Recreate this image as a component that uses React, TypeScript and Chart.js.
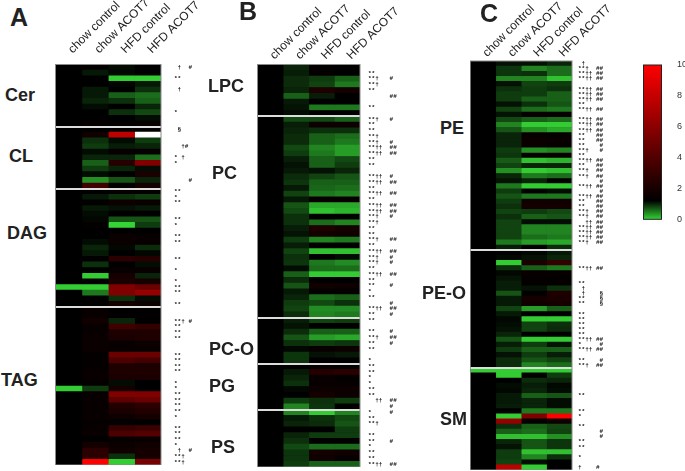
import React, { useEffect, useRef } from "react";
import { Chart, registerables } from "chart.js";

Chart.register(...registerables);

const columns = ["chow control", "chow ACOT7", "HFD control", "HFD ACOT7"];
const colorbarTicks = [0, 2, 4, 6, 8, 10];

// Each row: chow control, chow ACOT7, HFD control, HFD ACOT7 (fold change; >10 saturates to white)
const cerRows = [[1,1.1,.95,1],[1,.9,.97,1],[1,1,.15,.15],[1,1,.97,.9],[1,.9,1,.8],[1,.9,.6,.55],[1,.85,.8,.6],[1,.95,1,.85],[1,1,.8,.7],[1,1,1,.95],[1,1.15,1.1,1.1]];
const clRows = [[1,1,1.1,1.05],[1,1.4,5.5,11],[1,.8,.95,.75],[1,.75,.88,.85],[1,.95,1.15,1.15],[1,.85,.85,.55],[1,.6,1.9,4],[1,.75,.85,.95],[1,.95,1,1.6],[1,.4,.65,.85],[1,2.5,1,1.5]];
const dagRows = [[1,1,1.1,1.1],[1,.9,.8,.75],[1,1.05,1.3,1.25],[1,.9,.93,.9],[1,.95,1,1],[1,.97,.65,.65],[1,1.1,.12,.75],[1,1,1,1],[1,1,1.25,1.2],[1,.95,1.25,1.2],[1,.85,.97,.82],[1,.9,1,.97],[1,1.03,2,1.9],[1,.8,1,.95],[1,1,1.15,1.2],[1,.15,1.5,.85],[1,1,1.6,1.5],[.15,.15,4,3.5],[1,.5,4,4.5],[1,1,.8,.95],[1,1.1,1.5,1.3]];
const tagRows = [[1,1.2,1,1.05],[1,1.2,1.05,1.05],[1,1.4,.85,1],[1,1.15,2.5,2.2],[1,1.2,1.7,1.7],[1,1.25,1.6,1.7],[1,1.25,1.2,1.3],[1,1.25,1.15,1.15],[1,1.1,3.5,3.5],[1,1.1,2.8,2.6],[1,1.1,1.7,1.6],[1,1.2,1.7,1.7],[1,1.2,1.6,1.6],[1,1.1,.95,1],[.15,.75,1.5,1],[1,1.2,4,4],[1,1.2,3.2,3.5],[1,1.15,1.8,2],[1,1.2,1.6,1.8],[1,1.2,1.3,1.5],[1,1.1,1.05,1],[1,1.2,2.3,2.4],[1,1.2,2.8,3],[1,1,1.15,1.2],[1,1.5,1.25,1.4],[1,2,1.4,1.5],[1,2,.8,1.5],[1,7,.15,3.8]];
const lpcRows = [[1,.85,1.1,1],[1,.88,1.1,1],[1,.82,.75,.6],[1,.82,.72,.5],[1,.85,1.7,1.5],[1,.6,.88,1],[1,.9,1,1],[1,.92,.5,.5],[1,.95,1,1.05]];
const pcRows = [[1,.7,.7,.6],[1,.88,1.3,1.3],[1,.85,.8,.8],[1,.82,.6,.55],[1,.82,.6,.5],[1,.7,.45,.35],[1,.75,.5,.35],[1,.88,.6,.7],[1,.93,.6,.75],[1,.9,.93,.85],[1,.82,.72,.65],[1,.78,.6,.6],[1,.9,.58,.55],[1,.72,.5,.45],[1,.9,1.2,1.2],[1,.65,.3,.3],[1,.7,.2,.25],[1,.8,1,1.05],[1,.8,.55,.45],[1,.88,1.7,1.5],[1,.92,1.5,1.4],[1,.75,.45,.5],[1,.88,1,1],[1,.72,.2,.2],[1,.8,1,.95],[1,.78,.5,.42],[1,.95,.55,.55],[1,.6,.15,.15],[1,.82,1,1],[1,.65,1.4,1.3],[1,.9,1.05,1.1],[1,.85,.55,.6],[1,.75,.7,.8],[1,.72,.42,.42],[1,.82,.45,.5]];
const pcoRows = [[1,.88,.72,.75],[1,.92,1,1],[1,.82,.6,.6],[1,.65,.35,.3],[1,.8,.75,.78],[1,.97,1.2,1.3],[1,.78,.93,.9],[1,.78,1,1]];
const pgRows = [[1,1,1.15,1.1],[1,.9,1.9,2],[1,.85,1.2,1.1],[1,.8,1.2,1.15],[1,.97,1.3,1.3],[1,1,1.5,1.3],[1,.75,.8,.75],[1,.45,.78,1]];
const psRows = [[1,.45,.15,.45],[1,.9,.8,.7],[1,.85,.82,.65],[1,1,1,.75],[1,.85,.75,.75],[1,.8,1,1],[1,.7,.55,.55],[1,.78,1.5,1.4],[1,.78,1.4,1.2],[1,.75,.6,.6]];
const peRows = [[1,.93,.93,.85],[1,.78,.45,.55],[1,.78,.8,.55],[1,.45,.45,.2],[1,.93,.72,.75],[1,.8,.75,.8],[1,.75,.75,.6],[1,.75,.6,.6],[1,.93,.8,.65],[1,.72,.55,.5],[1,.92,1.15,1.15],[1,.7,.6,.55],[1,.45,.15,.15],[1,.65,.4,.3],[1,.85,1.2,1.15],[1,.85,1.25,1.2],[1,.85,1.25,1.2],[1,.75,.4,.45],[1,.78,1.2,1.25],[1,.62,.2,.25],[1,.72,.85,.85],[1,.4,.15,.2],[1,.85,.5,.55],[1,.92,.85,1],[1,.5,.15,.15],[1,.75,1,.95],[1,.65,.5,.5],[1,.75,1.4,1.4],[1,.8,1.5,1.5],[1,.72,.75,.7],[1,.8,.6,.65],[1,.72,.95,.95],[1,.72,.45,.45],[1,.72,.45,.45],[1,.72,.55,.5],[1,.5,.35,.3],[1,.88,1,.82]];
const peoRows = [[1,1,.97,.9],[1,.97,.93,.85],[1,.15,1.6,2.2],[1,.8,.6,.5],[1,.97,1.2,1.15],[1,.92,1.1,1.1],[1,.88,1.1,1.1],[1,.88,.92,.8],[1,.65,1.05,1.7],[1,.9,1.5,1.6],[1,.9,1.4,1.5],[1,.72,.35,.6],[1,.9,1,1],[1,.97,.15,.15],[1,.95,.72,.8],[1,.93,.72,.82],[1,.85,1,1],[1,.65,.15,.15],[1,.88,.75,.92],[1,.75,.6,.6],[1,.93,.75,.88],[1,.82,.65,.72],[1,.82,.45,.55]];
const smRows = [[.15,.15,.15,.15],[1,.15,1.1,.75],[1,1,.82,.85],[1,.95,.88,.97],[1,.97,.85,.95],[1,.9,.6,.65],[1,.9,.85,.95],[1,.88,.85,.95],[1,1,.5,.5],[1,.15,4,7],[1,4.5,1.05,1.3],[1,.8,.6,.7],[1,.6,.55,.72],[1,.2,.2,.4],[1,.85,.65,.78],[1,.92,.65,.78],[1,.75,.2,.2],[1,.75,.45,.8],[1,.72,.95,1],[1,5.5,.15,1.05]];

// Significance marks, one string per row
const cerMarks = [" †  #","","**","", " †","","","","*","",""];
const clMarks = [" §","","","  †#","","* †","*","","","    #",""];
const dagMarks = ["**","*","**","","","**","*","","**","**","","","**","","*","","*","**","**","","**"];
const tagMarks = ["","","**† #","**","**","**","","","**","**","**","**","","*","*","**","**","**","**","*","","**","**","**","*"," †  #","**†","**†"];
const lpcMarks = ["","**","**†   #","**†","**","      ##","","**",""];
const pcMarks = ["**†   #","**","**","**†","**†   #","**††  ##","**††  ##","**","**","","**††  #","**††  ##","**","**††  ##","**","**††  ##","**††  ##","**†   #","**†","**","**","**†   ##","**","**††  ##","**†   #","**†   #","**","**††  ##","**","**    #","*","**","      #","**††  ##","**    #"];
const pcoMarks = ["**","","**    #","**†   ##","**    #","**","","*"];
const pgMarks = ["**","**","*","*","**","**","  ††  ##","      #"];
const psMarks = ["*     #","**","**†","","**","**    #","*","**","**","**††  ##"];
const peMarks = [" †","**†  ##","**†† ##","**†† ##","","**†† ##","**†† ##","**†† ##","**","**†† ##","","**†† ##","**†† ##","**†† ##","**   ##","**   ##","**    #","**†   #","**","**†† ##","**   ##","**†  ##","**†  ##","      #","**†† ##","      #","**†† ##","**   ##","**   ##","**†  ##","**†  ##","  †† ##","**†† ##","**†† ##","**†† ##","**†  ##",""];
const peoMarks = ["","","","**†† ##","","","**"," †"," †    §","**    §","**    §","","**","**","**","**","**","**†† ##","*     #","**†† ##","","**    #","**†  ##"];
const smMarks = ["","","","","","**","","","**","*","","**","      #","      #","**","**","","*","","†    #"];

const LIME = [60, 240, 60];
const RED_SPAN = 6;

function cellColor(v: number) {
  if (v > 10) return "#ffffff";
  if (v >= 1) return `rgb(${Math.round(Math.min(1, (v - 1) / RED_SPAN) * 255)},0,0)`;
  const t = 1 - v;
  return `rgb(${Math.round(LIME[0] * t)},${Math.round(LIME[1] * t)},${Math.round(LIME[2] * t)})`;
}

const panels = [
  { left: 55, pad: 0.5, width: 105, top: 64.5, bottom: 465, labelPad: 8, groups: [[cerRows, cerMarks], [clRows, clMarks], [dagRows, dagMarks], [tagRows, tagMarks]], markPad: 13 },
  { left: 257, pad: 0.5, width: 102.5, top: 64.5, bottom: 467, labelPad: 2, groups: [[lpcRows, lpcMarks], [pcRows, pcMarks], [pcoRows, pcoMarks], [pgRows, pgMarks], [psRows, psMarks]], markPad: 8 },
  { left: 470, pad: 0.3, width: 101.4, top: 61, bottom: 469.7, labelPad: 1, groups: [[peRows, peMarks], [peoRows, peoMarks], [smRows, smMarks]], markPad: 6 },
];

const groupLabels = [
  ["A", 10, 17, 25], ["B", 239, 11, 25], ["C", 480, 13, 25],
  ["Cer", 5, 95, 18], ["CL", 9, 156, 18], ["DAG", 7, 233, 18], ["TAG", 1, 380, 18],
  ["LPC", 208, 86, 18], ["PC", 212, 173, 18], ["PC-O", 209, 349, 18], ["PG", 209, 386, 18], ["PS", 211, 447, 18],
  ["PE", 440, 128, 18], ["PE-O", 422, 293, 18], ["SM", 440, 419, 18],
] as const;

const FONT = "'Liberation Sans', Arial, sans-serif";
const EXTRA_RIGHT = 72;

const framePlugin = {
  id: "frame",
  beforeDatasetsDraw(chart: any) {
    const a = chart.chartArea;
    chart.ctx.save();
    chart.ctx.fillStyle = "#000";
    chart.ctx.fillRect(a.left, a.top, a.right - a.left, a.bottom - a.top);
    chart.ctx.restore();
  },
  afterDraw(chart: any) {
    const a = chart.chartArea;
    chart.ctx.save();
    chart.ctx.strokeStyle = "#8a8a8a";
    chart.ctx.lineWidth = 1;
    chart.ctx.strokeRect(a.left, a.top, a.right - a.left, a.bottom - a.top);
    chart.ctx.restore();
  },
};

function makePanel(canvas: HTMLCanvasElement, p: (typeof panels)[number]) {
  const rows = p.groups.flatMap((g) => g[0] as number[][]);
  const marks = p.groups.flatMap((g) => g[1] as string[]);
  const starts = new Set<number>();
  let n = 0;
  p.groups.forEach((g, i) => {
    if (i > 0) starts.add(n);
    n += (g[0] as number[][]).length;
  });
  const rowIds = rows.map((_, i) => String(i));
  return new Chart(canvas, {
    type: "bar",
    data: {
      labels: rowIds,
      datasets: columns.map((name, c) => ({
        label: name,
        data: rows.map(() => 1),
        backgroundColor: rows.map((r) => cellColor(r[c])),
        borderWidth: 0,
        barPercentage: 1,
        categoryPercentage: 1,
        xAxisID: "x",
        yAxisID: "y",
      })),
    },
    options: {
      indexAxis: "y",
      animation: false,
      responsive: false,
      devicePixelRatio: 1,
      layout: { padding: 0 },
      plugins: { legend: { display: false }, tooltip: { enabled: false } },
      scales: {
        x: { type: "linear", stacked: true, min: 0, max: 4, display: false },
        y: {
          type: "category",
          stacked: true,
          position: "left",
          ticks: { display: false },
          border: { display: false },
          grid: {
            z: 1,
            offset: true,
            drawTicks: false,
            color: (ctx: any) => (starts.has(ctx.index) ? "#dcdcdc" : "rgba(0,0,0,0)"),
            lineWidth: (ctx: any) => (starts.has(ctx.index) ? 2 : 0),
          },
          afterFit: (s: any) => { s.width = p.pad; s.paddingTop = 0; s.paddingBottom = 0; },
        },
        y2: {
          type: "category",
          axis: "y",
          labels: marks,
          offset: true,
          position: "right",
          border: { display: false },
          grid: { display: false, drawTicks: false },
          ticks: {
            autoSkip: false,
            maxRotation: 0,
            minRotation: 0,
            padding: p.markPad,
            color: "#111",
            font: { family: "'Liberation Mono', monospace", size: 6, weight: "bold" },
          },
          afterFit: (s: any) => { s.width = EXTRA_RIGHT; s.paddingTop = 0; s.paddingBottom = 0; },
        },
        x2: {
          type: "category",
          axis: "x",
          labels: columns,
          offset: true,
          position: "top",
          border: { display: false },
          grid: { display: false, drawTicks: false },
          ticks: {
            autoSkip: false,
            maxRotation: 45,
            minRotation: 45,
            padding: p.labelPad,
            labelOffset: 12,
            color: "#222",
            font: { family: FONT, size: 12 },
          },
          afterFit: (s: any) => { s.height = p.top; s.paddingLeft = 0; s.paddingRight = 0; },
        },
      },
    } as any,
    plugins: [framePlugin],
  });
}

function makeColorbar(canvas: HTMLCanvasElement) {
  return new Chart(canvas, {
    type: "bar",
    data: {
      labels: ["scale"],
      datasets: [
        {
          data: [[colorbarTicks[0], colorbarTicks[colorbarTicks.length - 1]]],
          borderWidth: 0,
          barPercentage: 1,
          categoryPercentage: 1,
          backgroundColor: (ctx: any) => {
            const a = ctx.chart.chartArea;
            if (!a) return "#000";
            const g = ctx.chart.ctx.createLinearGradient(0, a.bottom, 0, a.top);
            g.addColorStop(0, "rgb(50,210,50)");
            g.addColorStop(0.12, "#000");
            g.addColorStop(1, "#ff0000");
            return g;
          },
        },
      ],
    },
    options: {
      animation: false,
      responsive: false,
      devicePixelRatio: 1,
      layout: { padding: { top: 65, left: 3, bottom: 7.7 } },
      plugins: { legend: { display: false }, tooltip: { enabled: false } },
      scales: {
        x: { display: false },
        y: {
          type: "linear",
          position: "right",
          min: 0,
          max: 10,
          border: { display: false },
          grid: { display: false, drawTicks: false },
          afterBuildTicks: (s: any) => { s.ticks = colorbarTicks.map((value) => ({ value })); },
          ticks: { padding: 15, color: "#333", font: { family: FONT, size: 9 } },
          afterFit: (s: any) => { s.width = 23; s.paddingTop = 0; s.paddingBottom = 0; },
        },
      },
    } as any,
    plugins: [{
      id: "barFrame",
      afterDraw(chart: any) {
        const a = chart.chartArea;
        chart.ctx.strokeStyle = "#222";
        chart.ctx.lineWidth = 1;
        chart.ctx.strokeRect(a.left + 0.5, a.top, a.right - a.left - 1, a.bottom - a.top);
      },
    }],
  });
}

export default function App() {
  const refs = useRef<(HTMLCanvasElement | null)[]>([]);
  const barRef = useRef<HTMLCanvasElement | null>(null);
  useEffect(() => {
    const charts = panels.map((p, i) => makePanel(refs.current[i]!, p));
    charts.push(makeColorbar(barRef.current!));
    return () => charts.forEach((c) => c.destroy());
  }, []);
  return (
    <div style={{ position: "absolute", left: 0, top: 0, width: 685, height: 471, overflow: "hidden", background: "#fff" }}>
      {panels.map((p, i) => (
        <canvas
          key={i}
          ref={(el) => { refs.current[i] = el; }}
          width={Math.ceil(p.pad + p.width + EXTRA_RIGHT)}
          height={Math.ceil(p.bottom)}
          style={{ position: "absolute", left: p.left, top: 0 }}
        />
      ))}
      <canvas ref={barRef} width={45} height={227} style={{ position: "absolute", left: 640, top: 0 }} />
      {groupLabels.map(([text, x, y, size]) => (
        <div
          key={text}
          style={{
            position: "absolute",
            left: x,
            top: y,
            transform: "translateY(-50%)",
            font: `bold ${size}px ${FONT}`,
            color: "#222",
            whiteSpace: "nowrap",
          }}
        >
          {text}
        </div>
      ))}
    </div>
  );
}
